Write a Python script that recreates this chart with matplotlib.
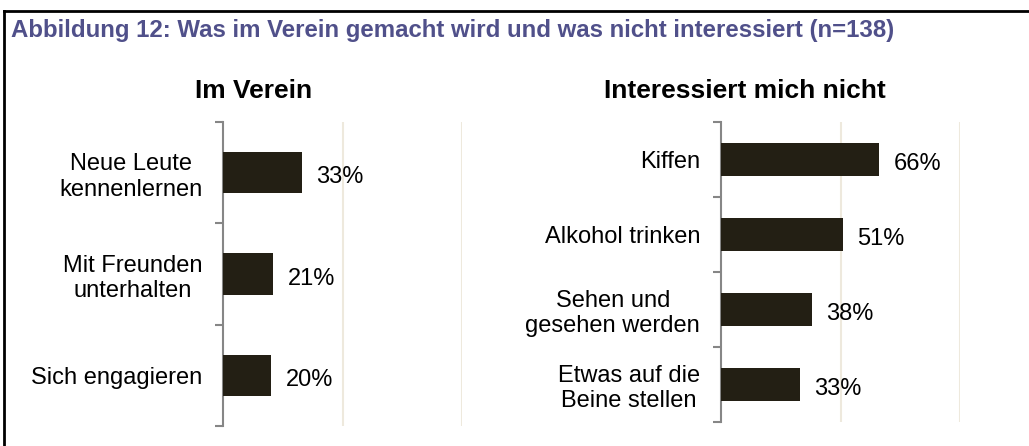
import matplotlib
matplotlib.use('Agg')
import matplotlib.pyplot as plt
from matplotlib.lines import Line2D
import numpy as np

plt.rcParams['font.family'] = ['Liberation Sans', 'DejaVu Sans']

title = 'Abbildung 12: Was im Verein gemacht wird und was nicht interessiert (n=138)'

left_title = 'Im Verein'
left_labels = ['Neue Leute\nkennenlernen', 'Mit Freunden\nunterhalten', 'Sich engagieren']
left_values = [33, 21, 20]

right_title = 'Interessiert mich nicht'
right_labels = ['Kiffen', 'Alkohol trinken', 'Sehen und\ngesehen werden',
                'Etwas auf die\nBeine stellen']
right_values = [66, 51, 38, 33]

bar_color = '#231F14'
grid_color = '#EEE9DD'
axis_color = '#868686'
title_color = '#50508A'

W, H = 1029, 446
fig = plt.figure(figsize=(W / 100, H / 100), dpi=100)

# outer frame (only top and left visible in the crop)
fig.add_artist(Line2D([4 / W, 4 / W], [0, 1 - 10.5 / H], transform=fig.transFigure,
                      color='black', lw=2))
fig.add_artist(Line2D([4 / W, 1], [1 - 10.5 / H, 1 - 10.5 / H], transform=fig.transFigure,
                      color='black', lw=2))
fig.text(11 / W, 1 - 37 / H, title, fontsize=17.3, fontweight='bold',
         color=title_color, va='baseline', ha='left')


def draw_panel(rect, labels, values, bar_h):
    ax = fig.add_axes(rect)
    n = len(values)
    y = np.arange(n)
    ax.barh(y, values, height=bar_h, color=bar_color, zorder=3)
    ax.set_xlim(0, 100)
    ax.set_ylim(n - 0.5, -0.5)
    ax.set_xticks([50, 100])
    ax.xaxis.grid(True, color=grid_color, lw=1.5, zorder=0)
    ax.tick_params(axis='x', length=0, labelbottom=False)
    for s in ['top', 'right', 'bottom']:
        ax.spines[s].set_visible(False)
    ax.spines['left'].set_color(axis_color)
    ax.spines['left'].set_linewidth(1.5)
    # boundary ticks and centred labels
    ax.set_yticks(np.arange(n + 1) - 0.5)
    ax.set_yticklabels([])
    ax.tick_params(axis='y', which='major', length=6, width=1.5, color=axis_color)
    ax.set_yticks(y, minor=True)
    ax.set_yticklabels(labels, minor=True, fontsize=17, multialignment='center')
    ax.tick_params(axis='y', which='minor', length=0, pad=15)
    for yi, v in zip(y, values):
        ax.annotate(f'{v}%', (v, yi), xytext=(10.5, -1.5), textcoords='offset points',
                    va='center_baseline', ha='left', fontsize=17)
    return ax


axl = draw_panel([223 / W, 20 / H, 239 / W, 304 / H], left_labels, left_values, 0.41)
axr = draw_panel([721 / W, 24 / H, 239 / W, 300 / H], right_labels, right_values, 0.43)

fig.text(254 / W, 1 - 88 / H, left_title, fontsize=19, fontweight='bold',
         ha='center', va='center_baseline')
fig.text(745 / W, 1 - 88 / H, right_title, fontsize=19, fontweight='bold',
         ha='center', va='center_baseline')

fig.savefig('out.png', dpi=100)
